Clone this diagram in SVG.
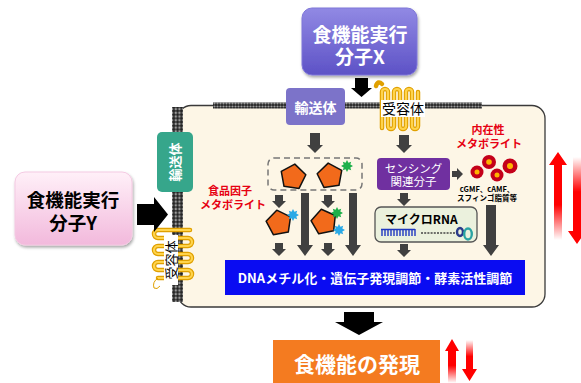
<svg xmlns="http://www.w3.org/2000/svg" width="581" height="383" viewBox="0 0 581 383">
  <style>
    text { font-family: "Noto Sans CJK JP", "Noto Sans", sans-serif; font-weight: bold; }
    .gray { fill: #404040; }
    .blk { fill: #000; }
    .red { fill: #e60012; font-size: 11px; }
    .wt { fill: #fff; }
    .tube-o { fill: none; stroke: #e0a000; stroke-width: 4.5; stroke-linecap: round; }
    .tube-i { fill: none; stroke: #ffd44d; stroke-width: 2.2; stroke-linecap: round; }
    .pent { fill: #f26a1b; stroke: #111; stroke-width: 1.5; stroke-linejoin: round; }
  </style>
  <defs>
    <pattern id="beadH" width="3" height="3" patternUnits="userSpaceOnUse">
      <rect width="3" height="3" fill="#222"/>
      <circle cx="1.5" cy="1.5" r="1.1" fill="#9a9a9a"/>
    </pattern>
    <pattern id="beadV" width="3.7" height="3.7" patternUnits="userSpaceOnUse">
      <rect width="3.7" height="3.7" fill="#222"/>
      <circle cx="1.85" cy="1.85" r="1.3" fill="#9a9a9a"/>
    </pattern>
    <linearGradient id="gX" x1="0" y1="0" x2="0" y2="1">
      <stop offset="0" stop-color="#9189e4"/>
      <stop offset="1" stop-color="#5d52c6"/>
    </linearGradient>
    <linearGradient id="gY" x1="0" y1="0" x2="0" y2="1">
      <stop offset="0" stop-color="#fff0f8"/>
      <stop offset="1" stop-color="#f2b9dc"/>
    </linearGradient>
    <linearGradient id="gUp" x1="0" y1="0" x2="0" y2="1">
      <stop offset="0" stop-color="#ff0000"/>
      <stop offset="0.6" stop-color="#ff0000"/>
      <stop offset="1" stop-color="#ff0000" stop-opacity="0"/>
    </linearGradient>
    <linearGradient id="gDown" x1="0" y1="0" x2="0" y2="1">
      <stop offset="0" stop-color="#ff0000" stop-opacity="0"/>
      <stop offset="0.4" stop-color="#ff0000"/>
      <stop offset="1" stop-color="#ff0000"/>
    </linearGradient>
    <filter id="soft" x="-10%" y="-10%" width="120%" height="130%">
      <feDropShadow dx="1" dy="2" stdDeviation="1.5" flood-color="#000" flood-opacity="0.35"/>
    </filter>
    <polygon id="pent" points="0,-13 12.4,-4 7.6,10.5 -7.6,10.5 -12.4,-4"/>
    <polygon id="star" points="0,-6 1.4,-3.3 4.2,-4.2 3.3,-1.4 6,0 3.3,1.4 4.2,4.2 1.4,3.3 0,6 -1.4,3.3 -4.2,4.2 -3.3,1.4 -6,0 -3.3,-1.4 -4.2,-4.2 -1.4,-3.3"/>
  </defs>

  <!-- cell body with membrane bilayer segments -->
  <g id="cell">
    <rect x="178" y="105.5" width="367" height="201.5" rx="13" fill="#fdf6e6" stroke="#3a3a3a" stroke-width="1.3"/>
    <rect x="213" y="102.5" width="73" height="6" fill="url(#beadH)"/>
    <rect x="345" y="102.5" width="36" height="6" fill="url(#beadH)"/>
    <rect x="419" y="102.5" width="63" height="6" fill="url(#beadH)"/>
    <rect x="172" y="107" width="11" height="25" fill="url(#beadV)"/>
    <rect x="172" y="192" width="11" height="110" fill="url(#beadV)"/>
  </g>

  <!-- functional molecule X -->
  <g id="molX">
    <rect x="302" y="8" width="115" height="67" rx="10" fill="url(#gX)" stroke="#7f77d8" stroke-width="1" filter="url(#soft)"/>
    <text x="360" y="42" font-size="19" text-anchor="middle" class="wt">食機能実行</text>
    <text x="360" y="64" font-size="19" text-anchor="middle" class="wt">分子X</text>
  </g>

  <!-- functional molecule Y -->
  <g id="molY">
    <rect x="15" y="172" width="117" height="73" rx="10" fill="url(#gY)" stroke="#f4c9e2" stroke-width="1" filter="url(#soft)"/>
    <text x="73" y="207" font-size="18.5" text-anchor="middle" class="blk">食機能実行</text>
    <text x="73" y="230" font-size="18.5" text-anchor="middle" class="blk">分子Y</text>
  </g>

  <!-- transporter (top) -->
  <g id="transporterTop">
    <rect x="286" y="88" width="59" height="37" rx="4" fill="#7c73c9"/>
    <text x="315.5" y="113" font-size="14" text-anchor="middle" class="wt">輸送体</text>
  </g>

  <!-- receptor (top) -->
  <g id="receptorTop">
    <path class="tube-o" d="M376,86 q2,-6 6,-2 M382,128 V92 a3,3 0 0 1 6,0 V126 a3,3 0 0 0 6,0 V92 a3,3 0 0 1 6,0 V126 a3,3 0 0 0 6,0 V92 a3,3 0 0 1 6,0 V126 a3,3 0 0 0 6,0 V92"/>
    <path class="tube-i" d="M382,128 V92 a3,3 0 0 1 6,0 V126 a3,3 0 0 0 6,0 V92 a3,3 0 0 1 6,0 V126 a3,3 0 0 0 6,0 V92 a3,3 0 0 1 6,0 V126 a3,3 0 0 0 6,0 V92"/>
    <rect x="381" y="100" width="44" height="17" fill="#fff"/>
    <text x="403" y="114" font-size="14" text-anchor="middle" class="blk" style="font-weight:normal">受容体</text>
  </g>

  <!-- transporter (left) -->
  <g id="transporterLeft">
    <rect x="157" y="132" width="36" height="60" rx="5" fill="#36a68b"/>
    <text x="0" y="0" font-size="13" text-anchor="middle" class="wt" transform="translate(180,162) rotate(-90)">輸送体</text>
  </g>

  <!-- receptor (left) -->
  <g id="receptorLeft">
    <path class="tube-o" d="M190,230 H158 a4,4 0 0 0 0,8 H188 a4,4 0 0 1 0,8 H158 a4,4 0 0 0 0,8 H188 a4,4 0 0 1 0,8 H158 a4,4 0 0 0 0,8 H188 a4,4 0 0 1 0,8 H158"/>
    <path class="tube-i" d="M190,230 H158 a4,4 0 0 0 0,8 H188 a4,4 0 0 1 0,8 H158 a4,4 0 0 0 0,8 H188 a4,4 0 0 1 0,8 H158 a4,4 0 0 0 0,8 H188 a4,4 0 0 1 0,8 H158"/>
    <path d="M158,278 q-6,4 -4,10 q3,2 6,-2" fill="none" stroke="#e0a000" stroke-width="1"/>
    <rect x="164" y="235" width="14" height="50" fill="#fff"/>
    <text x="0" y="0" font-size="13" text-anchor="middle" class="blk" style="font-weight:normal" transform="translate(176,260) rotate(-90)">受容体</text>
  </g>

  <!-- food factor metabolites -->
  <g id="foodMetabolites">
    <rect x="268" y="158" width="94" height="32" rx="6" fill="none" stroke="#777" stroke-width="1.5" stroke-dasharray="6,4"/>
    <use href="#pent" class="pent" transform="translate(293,177) rotate(8)"/>
    <use href="#pent" class="pent" transform="translate(330,176) rotate(-8)"/>
    <use href="#star" fill="#1eb04a" transform="translate(347,166)"/>
    <use href="#pent" class="pent" transform="translate(279,223) rotate(-10)"/>
    <use href="#star" fill="#2aa9e6" transform="translate(293,215)"/>
    <use href="#pent" class="pent" transform="translate(324,222) rotate(-12)"/>
    <use href="#star" fill="#1eb04a" transform="translate(337,213)"/>
    <use href="#star" fill="#2aa9e6" transform="translate(339,230)"/>
    <text x="230" y="195" text-anchor="middle" class="red">食品因子</text>
    <text x="233" y="209" text-anchor="middle" class="red">メタボライト</text>
  </g>

  <!-- sensing molecule -->
  <g id="sensing">
    <rect x="377" y="158" width="73" height="32" rx="4" fill="#7030a0"/>
    <text x="413.5" y="172.5" font-size="11.5" text-anchor="middle" class="wt" style="font-weight:normal">センシング</text>
    <text x="413.5" y="186" font-size="11.5" text-anchor="middle" class="wt" style="font-weight:normal">関連分子</text>
  </g>

  <!-- endogenous metabolites -->
  <g id="endoMetabolites">
    <text x="488" y="134" text-anchor="middle" class="red">内在性</text>
    <text x="489" y="148" text-anchor="middle" class="red">メタボライト</text>
    <g fill="#c4001a">
      <circle cx="477" cy="172" r="6.5"/>
      <circle cx="489" cy="162" r="7"/>
      <circle cx="497" cy="175" r="6.5"/>
      <circle cx="510" cy="166" r="7.5"/>
    </g>
    <g fill="#ffb300">
      <circle cx="477" cy="172" r="2.5"/>
      <circle cx="489" cy="162" r="2.8"/>
      <circle cx="497" cy="175" r="2.5"/>
      <circle cx="510" cy="166" r="3"/>
    </g>
    <text x="487" y="192" font-size="7.5" text-anchor="middle" class="blk">cGMF、cAMF、</text>
    <text x="487" y="201" font-size="7.5" text-anchor="middle" class="blk">スフィンゴ脂質等</text>
  </g>

  <!-- microRNA -->
  <g id="microRNA">
    <rect x="375" y="207" width="102" height="35" rx="6" fill="#ebf1dd" stroke="#555" stroke-width="1.3"/>
    <text x="385" y="224" font-size="12" class="blk">マイクロRNA</text>
    <path d="M381,229.5 H415 M382,229 V236 M385,229 V236 M388,229 V236 M391,229 V236 M394,229 V236 M397,229 V236 M400,229 V236 M403,229 V236 M406,229 V236 M409,229 V236 M412,229 V236 M415,229 V236" stroke="#2038c0" stroke-width="1.4" fill="none"/>
    <path d="M421,233 H456" stroke="#444" stroke-width="1.6" stroke-dasharray="2,1.2" fill="none"/>
    <ellipse cx="460" cy="232" rx="3" ry="4" fill="none" stroke="#2a3a8a" stroke-width="2.4"/>
    <ellipse cx="468" cy="234" rx="3.8" ry="5.5" fill="none" stroke="#2aa3a3" stroke-width="2.4"/>
  </g>

  <!-- regulation bar -->
  <g id="regulation">
    <rect x="225" y="260" width="300" height="35" fill="#0a0cf2"/>
    <text x="375" y="283" font-size="13" text-anchor="middle" class="wt">DNAメチル化・遺伝子発現調節・酵素活性調節</text>
  </g>

  <!-- expression of food function -->
  <g id="expression">
    <rect x="273" y="340" width="167" height="45" fill="#f47b20"/>
    <text x="357" y="372" font-size="21" text-anchor="middle" class="wt">食機能の発現</text>
  </g>

  <!-- connectors -->
  <g id="connectors">
    <!-- black entry arrows -->
    <polygon class="blk" points="355,78 368,78 368,88 372,88 361.5,97 351,88 355,88"/>
    <polygon class="blk" points="137,204 154,204 154,197 168,214.5 154,232 154,225 137,225"/>
    <polygon class="blk" points="344,312 374,312 374,322 383,322 359,335 335,322 344,322"/>
    <!-- inner gray arrows -->
    <polygon class="gray" points="310,133 320,133 320,145 323,145 315,153 307,145 310,145"/>
    <polygon class="gray" points="275,195 283,195 283,201 286,201 279,208 272,201 275,201"/>
    <polygon class="gray" points="324,195 332,195 332,201 335,201 328,208 321,201 324,201"/>
    <polygon class="gray" points="301,193 309,193 309,245 313,245 305,256 297,245 301,245"/>
    <polygon class="gray" points="349,193 357,193 357,245 361,245 353,256 345,245 349,245"/>
    <polygon class="gray" points="275,243 283,243 283,249 286,249 279,256 272,249 275,249"/>
    <polygon class="gray" points="324,243 332,243 332,249 335,249 328,256 321,249 324,249"/>
    <polygon class="gray" points="399,135 409,135 409,145 412,145 404,153 396,145 399,145"/>
    <polygon class="gray" points="400,193 408,193 408,199 411,199 404,206 397,199 400,199"/>
    <polygon class="gray" points="400,244 408,244 408,250 411,250 404,257 397,250 400,250"/>
    <polygon class="gray" points="486,205 496,205 496,245 499,245 491,256 483,245 486,245"/>
    <polygon class="gray" points="452,171 457,171 457,168 463,174 457,180 457,177 452,177"/>
    <!-- red up/down arrows -->
    <polygon fill="url(#gUp)" points="554,240 562,240 562,165 567,165 558,152 549,165 554,165"/>
    <polygon fill="url(#gDown)" points="573,157 581,157 581,231 586,231 577,244 568,231 573,231"/>
    <polygon fill="url(#gUp)" points="448,383 456,383 456,351 459,351 452,339 445,351 448,351"/>
    <polygon fill="url(#gDown)" points="466,340 473,340 473,369 477,369 469.5,381 462,369 466,369"/>
  </g>
</svg>
